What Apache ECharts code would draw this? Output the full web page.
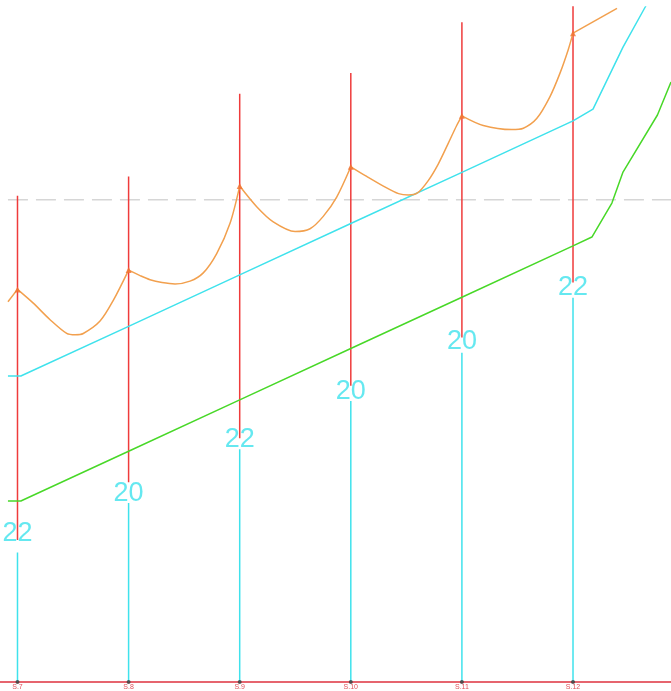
<!DOCTYPE html>
<html><head><meta charset="utf-8">
<script src="https://cdn.jsdelivr.net/npm/echarts@6/dist/echarts.min.js"></script>
<style>html,body{margin:0;padding:0;background:#fff}#c{width:671px;height:691px}</style>
</head><body><div id="c"></div>
<script>
// Stations (distance along line, m) and names
const stationNames = ['S.7', 'S.8', 'S.9', 'S.10', 'S.11', 'S.12'];
const stationX = [0, 100, 200, 300, 400, 500];
// Pole heights (labels) and elevations
const poleHeights = [22, 20, 22, 20, 20, 22];
const poleTop = [35.3, 36.7, 42.7, 44.2, 47.9, 53.7];
const poleRedBottom = [10.3, 14.5, 17.7, 21.5, 25.0, 29.0];
const poleLabelV = [10.8, 13.7, 17.6, 21.1, 24.7, 28.6];
const poleCyanTop = [9.4, 13.0, 16.9, 20.4, 23.9, 27.9];
const attachV = [28.5, 29.9, 36.0, 37.4, 41.1, 47.1];

// Ground profile (green)
const groundX = [-8.6, 0, 3, 100, 200, 300, 400, 500, 517, 535, 545, 576, 588.2];
const groundV = [13.14, 13.14, 13.14, 16.75, 20.48, 24.21, 27.93, 31.66, 32.30, 34.77, 37.02, 41.16, 43.55];
// Clearance line (cyan)
const clearanceX = [-8.6, 0, 3, 100, 200, 300, 400, 500, 518, 545, 565, 568];
const clearanceV = [22.21, 22.21, 22.21, 25.82, 29.55, 33.28, 37.00, 40.73, 41.59, 46.09, 49.0, 49.5];
// Reference level (dashed)
const refLevelX = [-8.6, 588.2];
const refLevelV = 35.0;

// Conductor (orange), one array per span
const stubLeft = [[-8.6, 27.6], [0, 28.5]];
const span1 = [[0, 28.5], [14.2, 27.5], [29.3, 26.3], [44.3, 25.3], [52, 25.2], [59.2, 25.3], [74.3, 26.2], [86.2, 27.7], [100, 29.9]];
const span2 = [[100, 29.9], [110.3, 29.5], [119.3, 29.2], [130.1, 29.0], [141.8, 28.9], [155.3, 29.1], [167.2, 29.7], [179.3, 31.1], [191.3, 33.3], [200, 36.0]];
const span3 = [[200, 36.0], [215.3, 34.5], [230.2, 33.4], [249.8, 32.7], [263.3, 32.9], [275.2, 33.8], [287.3, 35.2], [300, 37.4]];
const span4 = [[300, 37.4], [314.3, 36.7], [329.3, 36.0], [343, 35.45], [352, 35.35], [360, 35.5], [369.7, 36.4], [378.7, 37.6], [387.7, 39.1], [395.3, 40.4], [400, 41.1]];
const span5 = [[400, 41.1], [419.2, 40.4], [444.8, 40.1], [455.3, 40.2], [467.3, 40.9], [479.3, 42.5], [488.3, 44.2], [495.7, 45.9], [500, 47.1]];
const stubRight = [[500, 47.1], [539.6, 48.9]];

const RED = '#ef3b3b', CYAN = '#3fe2ec', GREEN = '#48d828', ORANGE = '#f2a04e';

const redData = [], cyanData = [];
stationX.forEach((x, i) => {
  redData.push([x, poleRedBottom[i]], [x, poleTop[i]], [x, '-']);
  cyanData.push([x, 0], [x, poleCyanTop[i]], [x, '-']);
});

const conductorSeries = [stubLeft, span1, span2, span3, span4, span5, stubRight].map(d => ({
  type: 'line', data: d, smooth: d.length > 2 ? 0.3 : false, symbol: 'none',
  lineStyle: { color: ORANGE, width: 1.5 }, z: 4
}));

const chart = echarts.init(document.getElementById('c'), null, { renderer: 'canvas' });
chart.setOption({
  animation: false,
  backgroundColor: '#ffffff',
  grid: { left: 0, right: 0, top: 7, bottom: 9, containLabel: false },
  xAxis: {
    type: 'value', min: -15.75, max: 588.2,
    axisLine: { show: true, onZero: false, lineStyle: { color: '#e6646e', width: 2 } },
    axisTick: { show: false }, splitLine: { show: false },
    axisLabel: {
      customValues: stationX,
      formatter: v => stationNames[stationX.indexOf(v)] || '',
      color: '#e0505a', fontSize: 7, margin: 2, fontFamily: 'Liberation Sans'
    }
  },
  yAxis: { type: 'value', min: 0, max: 49, show: false },
  series: [
    {
      type: 'line', data: refLevelX.map(x => [x, refLevelV]), symbol: 'none',
      lineStyle: { color: '#d6d6d6', width: 1.5, type: [20, 8] }, z: 1
    },
    {
      type: 'line', data: cyanData, symbol: 'none', connectNulls: false,
      lineStyle: { color: CYAN, width: 1.5 }, z: 2
    },
    {
      type: 'line', data: redData, symbol: 'none', connectNulls: false,
      lineStyle: { color: RED, width: 1.5 }, z: 2
    },
    {
      type: 'line', data: groundX.map((x, i) => [x, groundV[i]]), symbol: 'none',
      lineStyle: { color: GREEN, width: 1.5 }, z: 3
    },
    {
      type: 'line', data: clearanceX.map((x, i) => [x, clearanceV[i]]), symbol: 'none',
      lineStyle: { color: CYAN, width: 1.5 }, z: 3
    },
    ...conductorSeries,
    {
      type: 'scatter', data: stationX.map((x, i) => [x, attachV[i]]),
      symbol: 'triangle', symbolSize: 6, itemStyle: { color: '#f07030' }, z: 5
    },
    {
      type: 'scatter', data: stationX.map(x => [x, 0]), clip: false,
      symbol: 'circle', symbolSize: 4, itemStyle: { color: '#3a3a3a' }, z: 6
    },
    {
      type: 'scatter', data: stationX.map((x, i) => [x, poleLabelV[i]]),
      symbolSize: 1, itemStyle: { color: 'rgba(0,0,0,0)' }, z: 7,
      label: {
        show: true, position: 'inside',
        formatter: p => String(poleHeights[p.dataIndex]),
        color: CYAN, fontSize: 27,
        fontFamily: '"Liberation Sans Narrow", "Liberation Sans", Arial, sans-serif'
      },
      labelLayout: { hideOverlap: false }
    }
  ]
});
</script>
</body></html>
